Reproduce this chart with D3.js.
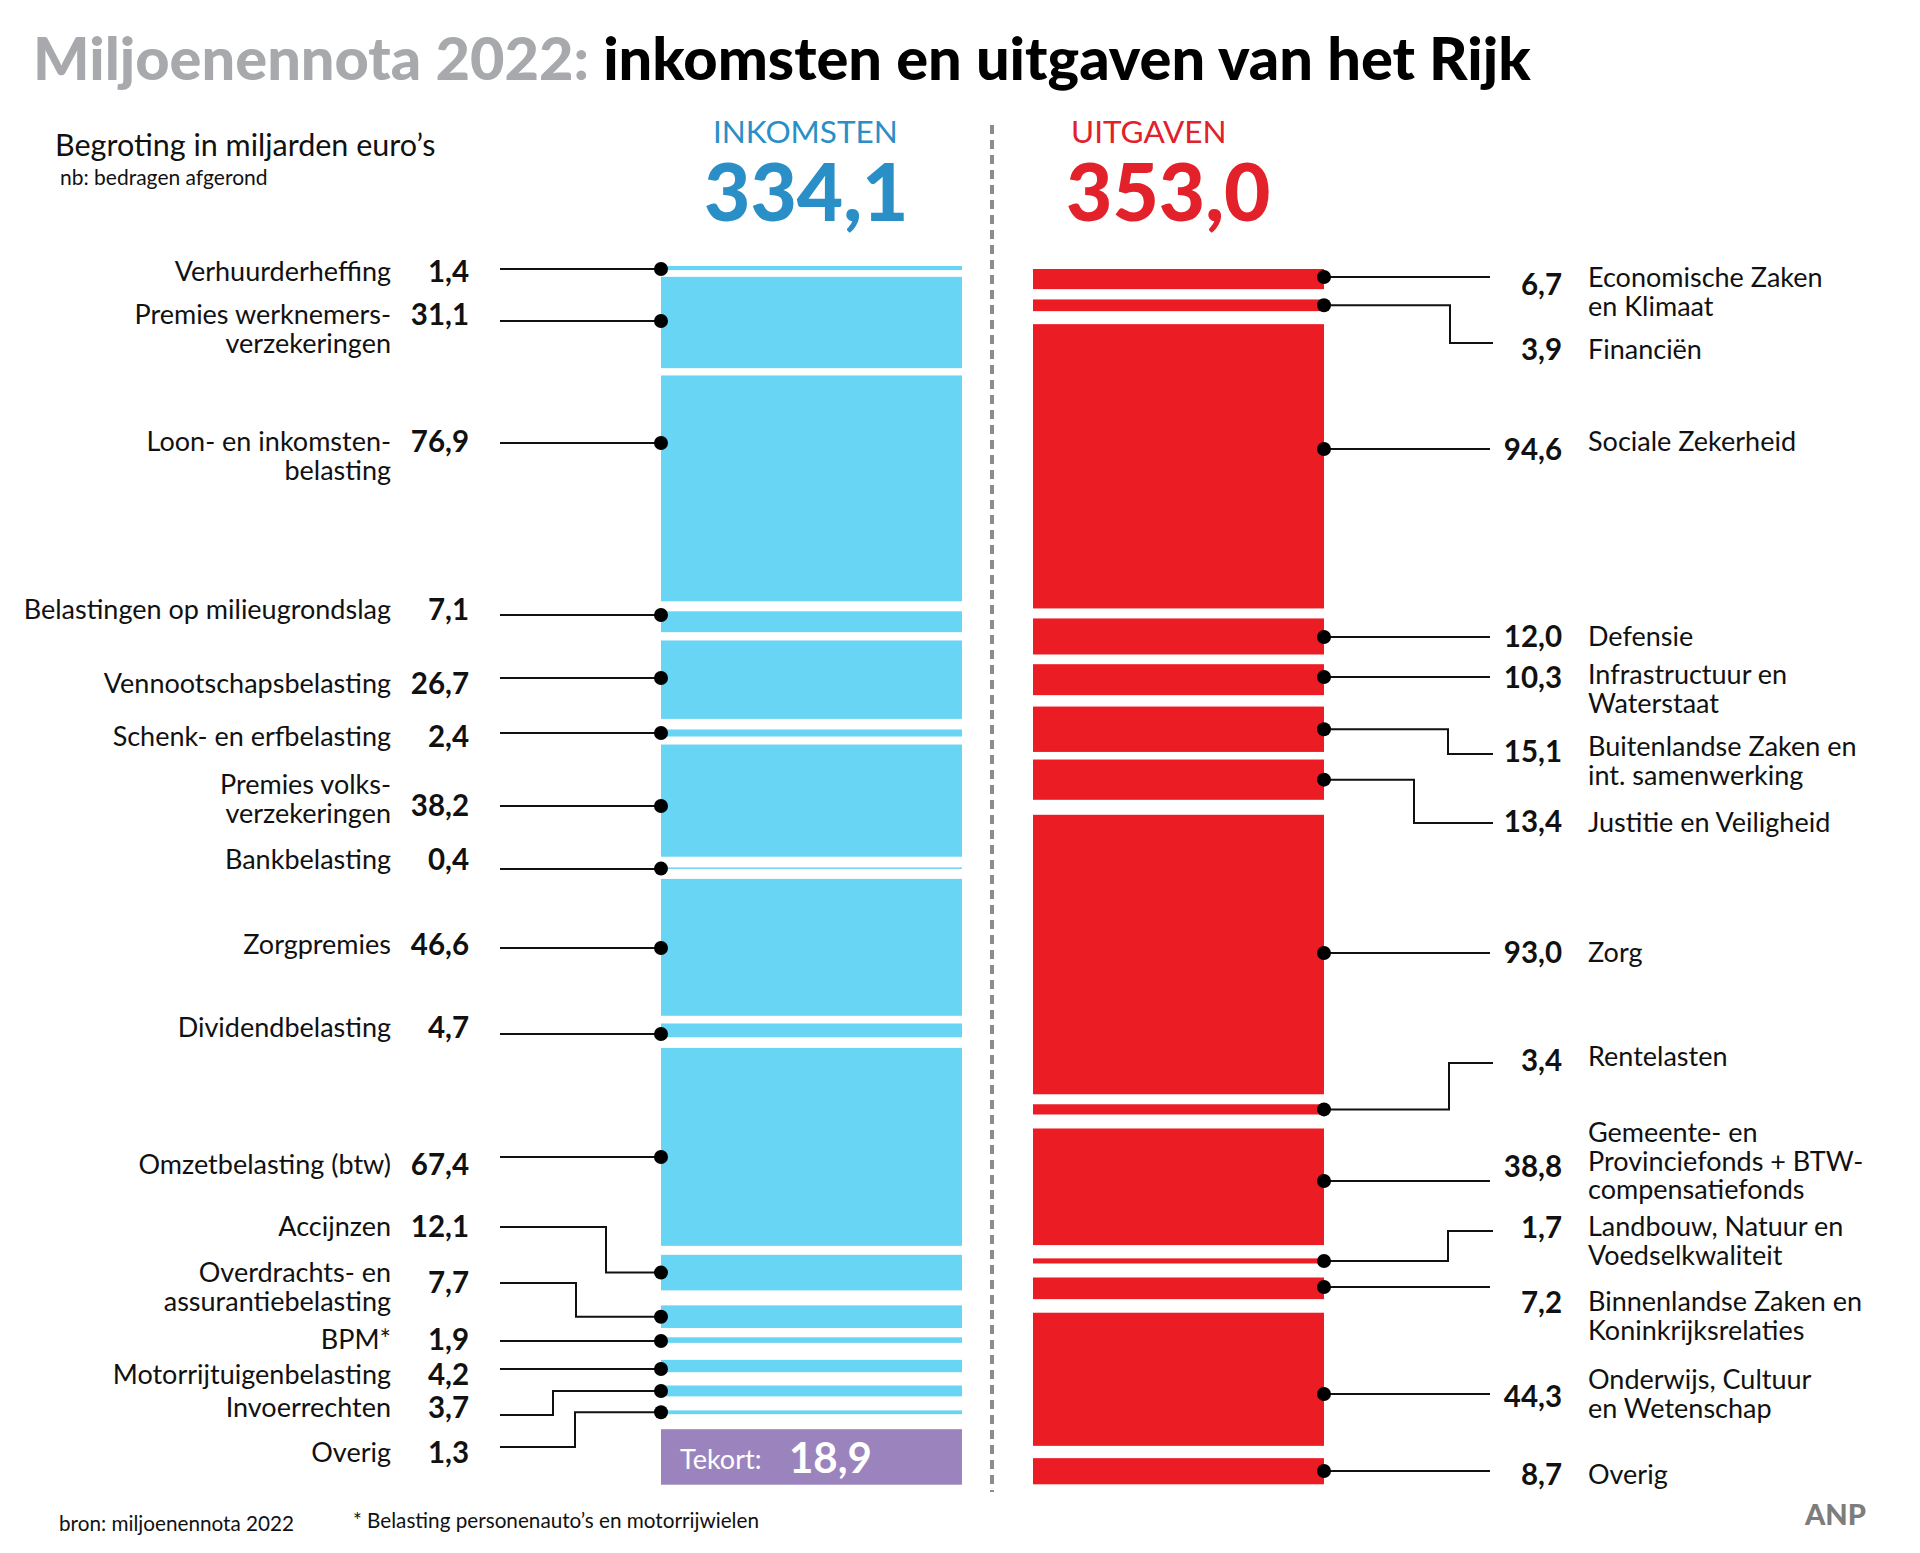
<!DOCTYPE html>
<html>
<head>
<meta charset="utf-8">
<script src="https://cdn.jsdelivr.net/npm/d3@7"></script>
<style>
  html, body { margin: 0; padding: 0; background: #fff; }
  svg { display: block; }
</style>
</head>
<body>
<svg id="chart" width="1920" height="1553"></svg>
<script>
// ---------------- DATA ----------------
const incomeCategories = [
  ["Verhuurderheffing"],
  ["Premies werknemers-", "verzekeringen"],
  ["Loon- en inkomsten-", "belasting"],
  ["Belastingen op milieugrondslag"],
  ["Vennootschapsbelasting"],
  ["Schenk- en erfbelasting"],
  ["Premies volks-", "verzekeringen"],
  ["Bankbelasting"],
  ["Zorgpremies"],
  ["Dividendbelasting"],
  ["Omzetbelasting (btw)"],
  ["Accijnzen"],
  ["Overdrachts- en", "assurantiebelasting"],
  ["BPM*"],
  ["Motorrijtuigenbelasting"],
  ["Invoerrechten"],
  ["Overig"]
];
const incomeValues = [1.4, 31.1, 76.9, 7.1, 26.7, 2.4, 38.2, 0.4, 46.6, 4.7, 67.4, 12.1, 7.7, 1.9, 4.2, 3.7, 1.3];
const deficitLabel = "Tekort:";
const deficitValue = 18.9;
const totalIncome = 334.1;

const spendingCategories = [
  ["Economische Zaken", "en Klimaat"],
  ["Financiën"],
  ["Sociale Zekerheid"],
  ["Defensie"],
  ["Infrastructuur en", "Waterstaat"],
  ["Buitenlandse Zaken en", "int. samenwerking"],
  ["Justitie en Veiligheid"],
  ["Zorg"],
  ["Rentelasten"],
  ["Gemeente- en", "Provinciefonds + BTW-", "compensatiefonds"],
  ["Landbouw, Natuur en", "Voedselkwaliteit"],
  ["Binnenlandse Zaken en", "Koninkrijksrelaties"],
  ["Onderwijs, Cultuur", "en Wetenschap"],
  ["Overig"]
];
const spendingValues = [6.7, 3.9, 94.6, 12.0, 10.3, 15.1, 13.4, 93.0, 3.4, 38.8, 1.7, 7.2, 44.3, 8.7];
const totalSpending = 353.0;

// ---------------- LAYOUT (positions / styles) ----------------
const BLUE = "#69d5f4", RED = "#ec1c24", PURPLE = "#9b84bd";
const BLUE_TXT = "#2a8fc6", RED_TXT = "#e2212a", GRAY = "#a7a9ac";
const FONT = "Lato, 'Open Sans', sans-serif";

const incomeCol = { x0: 661, x1: 962, y0: 266, y1: 1484.7 };
const spendCol  = { x0: 1033, x1: 1324, y0: 269, y1: 1484.3 };
// white separation between consecutive blocks (px)
const incomeGaps = [6.7, 7.3, 10, 8.3, 10.6, 8, 10.7, 10.3, 7.7, 10.6, 9, 15, 9.3, 17, 13.3, 14, 15];
const spendGaps  = [10.3, 13, 10, 9.7, 11.4, 7.6, 15, 10, 14, 13.3, 14, 13.6, 12.3];

// annotation placement: [textY (first line centre), valueY, lineY, elbowX]
const incomeAnn = [
  [272, 272, 269, null], [315, 315, 321, null], [442, 442, 443, null], [610, 610, 615, null],
  [684, 684, 678, null], [737, 737, 733, null], [785, 806, 806, null], [860, 860, 869, null],
  [945, 945, 948, null], [1028, 1028, 1034, null], [1165, 1165, 1157, null], [1227, 1227, 1227, 606],
  [1273, 1283, 1283, 576], [1340, 1340, 1341, null], [1375, 1375, 1369, null], [1408, 1408, 1415, 553],
  [1453, 1453, 1447, 575]
];
const spendAnn = [
  [278, 285, 277, null], [350, 350, 343, 1450], [442, 450, 449, null], [637, 637, 637, null],
  [675, 678, 677, null], [747, 752, 754, 1448], [823, 822, 823, 1414], [953, 953, 953, null],
  [1057, 1061, 1063, 1449], [1133, 1167, 1181, null], [1227, 1228, 1231, 1448], [1302, 1303, 1287, null],
  [1380, 1397, 1394, null], [1475, 1475, 1471, null]
];
const LINE_H = 28.5;
const LABEL_SIZE = 27, VALUE_SIZE = 29.5;
const DOT_R = 7;

const fmt = v => d3.format(".1f")(v).replace(".", ",");

const svg = d3.select("#chart");

// ---------- stacking helper using a linear scale ----------
function stack(values, gaps, col) {
  const total = d3.sum(values);
  const span = (col.y1 - col.y0) - d3.sum(gaps);
  const h = d3.scaleLinear().domain([0, total]).range([0, span]);
  let y = col.y0;
  return values.map((v, i) => {
    const top = y;
    const bottom = y + h(v);
    y = bottom + (i < gaps.length ? gaps[i] : 0);
    return { v, top, bottom, mid: (top + bottom) / 2 };
  });
}

const incomeAll = incomeValues.concat([deficitValue]);
const incomeBlocks = stack(incomeAll, incomeGaps, incomeCol);
const spendBlocks = stack(spendingValues, spendGaps, spendCol);

// ---------- bars ----------
svg.append("g").selectAll("rect").data(incomeBlocks).join("rect")
  .attr("x", incomeCol.x0).attr("width", incomeCol.x1 - incomeCol.x0)
  .attr("y", d => d.top).attr("height", d => Math.max(1.5, d.bottom - d.top))
  .attr("fill", (d, i) => i === incomeAll.length - 1 ? PURPLE : BLUE);

svg.append("g").selectAll("rect").data(spendBlocks).join("rect")
  .attr("x", spendCol.x0).attr("width", spendCol.x1 - spendCol.x0)
  .attr("y", d => d.top).attr("height", d => Math.max(1.5, d.bottom - d.top))
  .attr("fill", RED);

// ---------- deficit label ----------
const def = incomeBlocks[incomeBlocks.length - 1];
svg.append("text").attr("x", 680).attr("y", def.mid + 3).attr("dy", "0.35em")
  .attr("font-family", FONT).attr("font-size", 27).attr("fill", "#fff").text(deficitLabel);
svg.append("text").attr("x", 789).attr("y", def.mid + 1).attr("dy", "0.35em")
  .attr("font-family", FONT).attr("font-weight", 700).attr("font-size", 42).attr("fill", "#fff").text(fmt(deficitValue));

// ---------- income annotations ----------
const gL = svg.append("g");
incomeValues.forEach((v, i) => {
  const [ty, vy, ly, ex] = incomeAnn[i];
  const b = incomeBlocks[i];
  const lines = incomeCategories[i];
  lines.forEach((ln, j) => {
    gL.append("text").attr("x", 391).attr("y", ty + j * LINE_H).attr("dy", "0.35em")
      .attr("text-anchor", "end").attr("font-family", FONT).attr("font-size", LABEL_SIZE)
      .attr("fill", "#111").text(ln);
  });
  gL.append("text").attr("x", 469).attr("y", vy).attr("dy", "0.35em")
    .attr("text-anchor", "end").attr("font-family", FONT).attr("font-weight", 700)
    .attr("font-size", VALUE_SIZE).attr("fill", "#111").text(fmt(v));
  let dotY, path;
  if (ex == null) {
    dotY = Math.min(Math.max(ly, b.top), b.bottom);
    path = `M500,${ly}H${incomeCol.x0}V${dotY}`;
  } else {
    dotY = b.mid;
    path = `M500,${ly}H${ex}V${dotY}H${incomeCol.x0}`;
  }
  gL.append("path").attr("d", path).attr("fill", "none").attr("stroke", "#111").attr("stroke-width", 2);
  gL.append("circle").attr("cx", incomeCol.x0).attr("cy", dotY).attr("r", DOT_R).attr("fill", "#000");
});

// ---------- spending annotations ----------
const gR = svg.append("g");
spendingValues.forEach((v, i) => {
  const [ty, vy, ly, ex] = spendAnn[i];
  const b = spendBlocks[i];
  spendingCategories[i].forEach((ln, j) => {
    gR.append("text").attr("x", 1588).attr("y", ty + j * LINE_H).attr("dy", "0.35em")
      .attr("font-family", FONT).attr("font-size", LABEL_SIZE).attr("fill", "#111").text(ln);
  });
  gR.append("text").attr("x", 1562).attr("y", vy).attr("dy", "0.35em")
    .attr("text-anchor", "end").attr("font-family", FONT).attr("font-weight", 700)
    .attr("font-size", VALUE_SIZE).attr("fill", "#111").text(fmt(v));
  let dotY, path;
  if (ex == null) {
    dotY = Math.min(Math.max(ly, b.top), b.bottom);
    path = `M${spendCol.x1},${dotY}V${ly}H1490`;
  } else {
    dotY = b.mid;
    path = `M${spendCol.x1},${dotY}H${ex}V${ly}H1493`;
  }
  gR.append("path").attr("d", path).attr("fill", "none").attr("stroke", "#111").attr("stroke-width", 2);
  gR.append("circle").attr("cx", spendCol.x1).attr("cy", dotY).attr("r", DOT_R).attr("fill", "#000");
});

// ---------- divider ----------
svg.append("line").attr("x1", 992).attr("x2", 992).attr("y1", 125).attr("y2", 1492)
  .attr("stroke", "#8c8c8c").attr("stroke-width", 4).attr("stroke-dasharray", "9,6");

// ---------- headers ----------
svg.append("text").attr("x", 713).attr("y", 143)
  .attr("font-family", FONT).attr("font-size", 31.5).attr("fill", BLUE_TXT).text("INKOMSTEN");
svg.append("text").attr("x", 704).attr("y", 221)
  .attr("font-family", FONT).attr("font-weight", 900).attr("font-size", 80).attr("fill", BLUE_TXT).text(fmt(totalIncome));
svg.append("text").attr("x", 1071).attr("y", 143)
  .attr("font-family", FONT).attr("font-size", 31.5).attr("fill", RED_TXT).text("UITGAVEN");
svg.append("text").attr("x", 1066).attr("y", 221)
  .attr("font-family", FONT).attr("font-weight", 900).attr("font-size", 80).attr("fill", RED_TXT).text(fmt(totalSpending));

// ---------- title ----------
const title = svg.append("text").attr("x", 33).attr("y", 80)
  .attr("font-family", FONT).attr("font-weight", 900).attr("font-size", 56);
title.append("tspan").attr("fill", GRAY).text("Miljoenennota 2022: ");
title.append("tspan").attr("fill", "#000").text("inkomsten en uitgaven van het Rijk");
const tw = title.node().getComputedTextLength();
title.attr("font-size", 56 * 1498 / tw);

svg.append("text").attr("x", 55).attr("y", 145).attr("dy", "0.35em")
  .attr("font-family", FONT).attr("font-size", 30.5).attr("fill", "#111").text("Begroting in miljarden euro’s");
svg.append("text").attr("x", 60).attr("y", 178).attr("dy", "0.35em")
  .attr("font-family", FONT).attr("font-size", 21).attr("fill", "#111").text("nb: bedragen afgerond");

// ---------- footer ----------
svg.append("text").attr("x", 59).attr("y", 1524).attr("dy", "0.35em")
  .attr("font-family", FONT).attr("font-size", 20.7).attr("fill", "#111").text("bron: miljoenennota 2022");
svg.append("text").attr("x", 353).attr("y", 1521).attr("dy", "0.35em")
  .attr("font-family", FONT).attr("font-size", 20.7).attr("fill", "#111").text("* Belasting personenauto’s en motorrijwielen");
svg.append("text").attr("x", 1805).attr("y", 1515).attr("dy", "0.35em")
  .attr("font-family", FONT).attr("font-weight", 900).attr("font-size", 29).attr("fill", "#7d7d7d").text("ANP");
</script>
</body>
</html>
